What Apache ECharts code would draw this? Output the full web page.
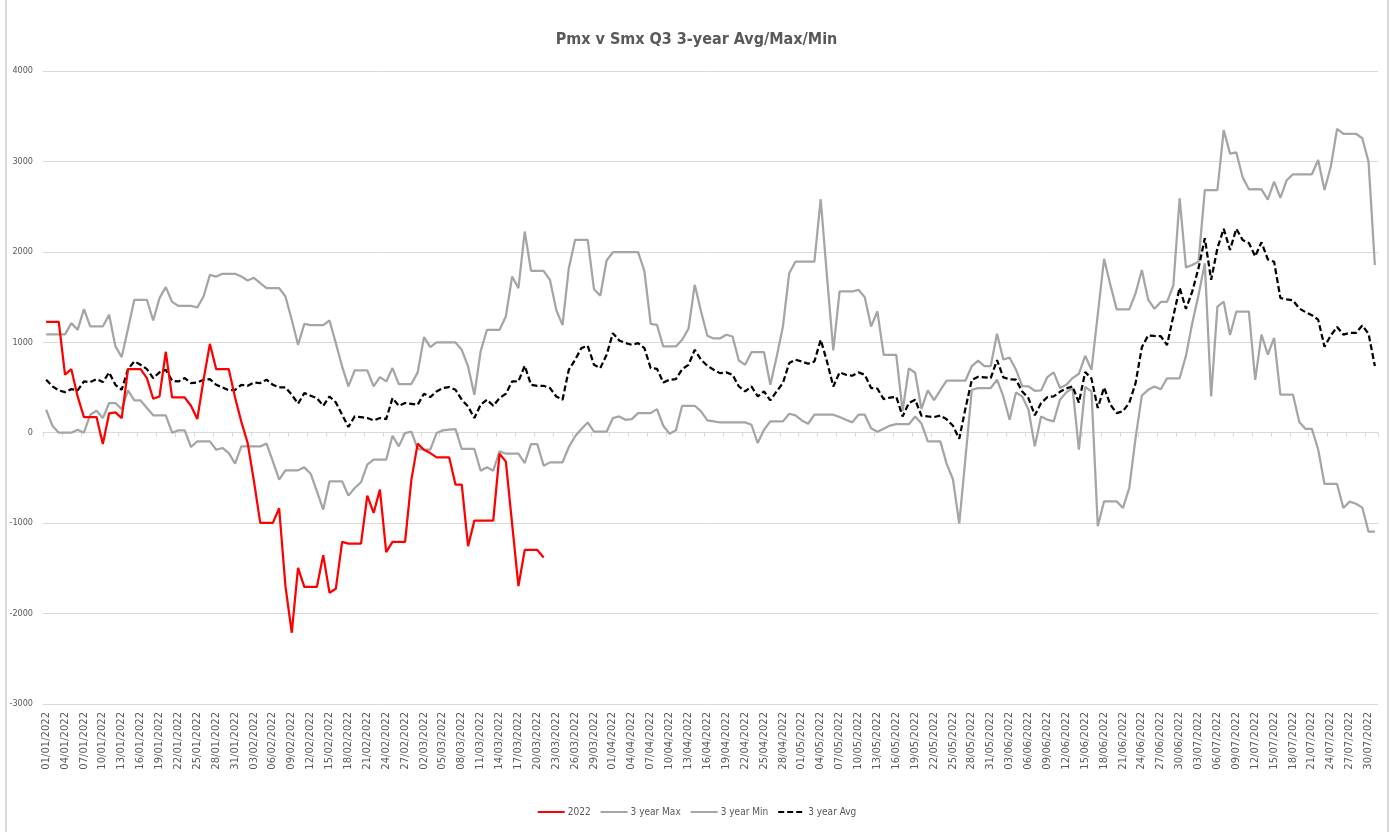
<!DOCTYPE html>
<html>
<head>
<meta charset="utf-8">
<script src="https://cdn.jsdelivr.net/npm/echarts@6/dist/echarts.min.js"></script>
<style>
html,body{margin:0;padding:0;background:#fff;}
#c{width:1393px;height:832px;}
</style>
</head>
<body>
<div id="c"></div>
<script>
// ---- categories: daily dates 01/01/2022 .. 31/07/2022 ----
const startYear = 2022, startMonth = 0, startDay = 1, dayCount = 212;
function buildDates() {
  const out = [];
  for (let k = 0; k < dayCount; k++) {
    const d = new Date(Date.UTC(startYear, startMonth, startDay + k));
    const dd = String(d.getUTCDate()).padStart(2, '0');
    const mm = String(d.getUTCMonth() + 1).padStart(2, '0');
    out.push(dd + '/' + mm + '/' + d.getUTCFullYear());
  }
  return out;
}
const dates = buildDates();

// ---- y axis ticks ----
const yMin = -3000, yMax = 4000, yStep = 1000;

// ---- series values ----
const s2022 = [1226,1226,1226,641,703,401,173,173,173,-125,213,225,162,703,703,703,604,376,401,895,
390,390,390,298,151,586,983,703,703,703,390,120,-114,-537,-997,-997,-997,-835,-1697,-2212,
-1494,-1704,-1704,-1704,-1354,-1770,-1726,-1207,-1226,-1226,-1226,-696,-887,-629,-1321,-1207,-1207,-1207,-519,-121,
-188,-225,-272,-272,-272,-574,-574,-1255,-972,-972,-972,-972,-232,-320,-1010,-1697,-1296,-1296,-1296,-1380];

const max3 = [1087,1087,1087,1087,1212,1138,1366,1175,1175,1175,1304,954,836,1150,1470,1470,1470,1241,1488,1610,
1447,1403,1403,1403,1385,1506,1746,1727,1757,1757,1757,1727,1683,1713,1654,1599,1599,1599,1506,1249,
972,1204,1190,1190,1190,1241,991,733,512,689,689,689,512,615,567,715,538,538,538,667,
1057,947,998,998,998,998,917,733,420,899,1138,1138,1138,1285,1727,1599,2225,1790,1790,1790,
1691,1359,1190,1820,2133,2133,2133,1587,1514,1904,1996,1996,1996,1996,1996,1790,1204,1193,954,954,
954,1028,1149,1635,1341,1072,1042,1042,1083,1064,799,751,891,891,891,530,836,1175,1764,1893,
1893,1893,1893,2582,1727,910,1562,1562,1562,1580,1499,1175,1341,862,862,862,240,711,663,263,
468,361,471,577,577,577,577,737,796,737,737,1095,810,830,700,515,512,464,468,615,
667,494,530,604,652,851,696,1310,1923,1635,1364,1364,1364,1542,1800,1472,1371,1446,1446,1628,
2592,1828,1855,1892,2684,2684,2684,3347,3086,3099,2825,2692,2694,2690,2577,2776,2598,2792,2858,2858,
2858,2858,3015,2684,2941,3359,3306,3306,3306,3256,2995,1855];

const min3 = [254,77,0,0,0,33,0,199,243,162,328,328,261,468,357,357,273,192,192,192,
0,26,26,-158,-96,-96,-96,-188,-169,-225,-342,-151,-151,-151,-151,-121,-317,-519,-416,-416,
-416,-383,-453,-648,-850,-537,-537,-537,-696,-611,-548,-353,-298,-298,-298,-33,-151,-4,11,-180,
-188,-188,-4,26,33,40,-180,-180,-180,-420,-383,-420,-206,-232,-232,-232,-335,-125,-125,-364,
-328,-328,-328,-158,-40,40,114,11,11,11,162,180,143,151,217,217,217,261,77,-11,
26,298,298,298,236,136,125,114,114,114,114,114,88,-114,33,125,125,125,210,191,
136,99,199,199,199,199,173,143,114,199,199,50,10,45,79,94,94,94,180,103,
-96,-96,-96,-344,-515,-1005,-270,475,494,494,494,586,401,144,446,401,254,-151,180,144,
125,365,446,494,-188,505,457,-1035,-759,-759,-759,-832,-611,-60,410,474,510,480,602,602,
602,850,1210,1523,1873,400,1394,1450,1080,1338,1338,1340,584,1085,864,1048,420,420,420,118,
42,42,-186,-567,-567,-567,-832,-762,-786,-828,-1095,-1095];

const avg3 = [586,512,468,449,482,468,567,560,593,560,667,530,475,703,788,751,703,604,667,696,
575,567,604,549,556,586,593,530,501,468,475,530,519,556,549,586,530,501,501,420,
320,438,409,383,298,401,335,199,63,180,173,162,136,162,151,383,298,328,320,309,
431,394,457,494,505,475,365,290,162,309,365,298,383,431,567,567,740,530,519,519,
494,401,365,696,807,936,961,751,715,862,1101,1020,991,972,991,936,715,707,556,586,
593,703,751,917,807,740,696,659,667,641,512,457,512,401,457,357,457,549,770,807,
788,762,788,1028,788,512,667,641,630,667,641,494,488,372,389,398,180,328,365,188,
180,173,190,148,77,-68,274,585,618,613,604,803,612,592,586,457,380,193,328,394,
401,452,490,512,332,672,598,273,500,310,217,238,330,548,945,1076,1070,1067,970,1290,
1603,1370,1560,1820,2150,1690,2040,2255,2021,2255,2132,2097,1950,2106,1917,1890,1490,1475,1464,1374,
1333,1300,1250,952,1075,1170,1085,1103,1103,1186,1094,738];

const seriesNames = ['2022', '3 year Max', '3 year Min', '3 year Avg'];

const txt = '#595959';
const narrow = "'Liberation Sans Narrow', 'DejaVu Sans Condensed', Roboto, sans-serif";
const chart = echarts.init(document.getElementById('c'), null, {renderer: 'canvas'});

chart.setOption({
  animation: false,
  backgroundColor: '#ffffff',
  graphic: [{
    type: 'rect', silent: true, z: -1,
    shape: {x: 6, y: -5, width: 1382, height: 850},
    style: {fill: 'none', stroke: '#d9d9d9', lineWidth: 2}
  }],
  title: {
    text: 'Pmx v Smx Q3 3-year Avg/Max/Min',
    left: 'center', top: 27,
    textStyle: {fontFamily: narrow, fontSize: 16, fontWeight: 'bold', color: txt}
  },
  legend: {
    data: seriesNames,
    top: 802, left: 'center',
    itemWidth: 27, itemHeight: 10, itemGap: 9,
    itemStyle: {opacity: 0},
    textStyle: {fontFamily: narrow, fontSize: 10, color: txt, padding: [0, 0, 0, -2]}
  },
  grid: {left: 43, right: 15, top: 71, bottom: 128},
  xAxis: [{
    type: 'category', data: dates, boundaryGap: true,
    axisLine: {show: false, onZero: false},
    axisTick: {show: false},
    splitLine: {show: false},
    axisLabel: {interval: 2, rotate: 90, fontSize: 10, color: txt, fontFamily: 'DejaVu Sans', margin: 8}
  }, {
    type: 'category', data: dates, boundaryGap: true, position: 'bottom',
    axisLine: {show: true, onZero: true, lineStyle: {color: '#d9d9d9', width: 1}},
    axisTick: {show: true, interval: 2, length: 4, lineStyle: {color: '#d9d9d9'}},
    axisLabel: {show: false},
    splitLine: {show: false}
  }],
  yAxis: {
    type: 'value', min: yMin, max: yMax, interval: yStep,
    axisLine: {show: false}, axisTick: {show: false},
    axisLabel: {fontSize: 9, color: txt, fontFamily: narrow, margin: 10, formatter: v => String(v)},
    splitLine: {lineStyle: {color: '#d9d9d9', width: 1}}
  },
  series: [{
    name: seriesNames[0], type: 'line', data: s2022, symbol: 'none', z: 5,
    lineStyle: {color: '#ff0000', width: 2.25}, itemStyle: {color: '#ff0000'}
  }, {
    name: seriesNames[1], type: 'line', data: max3, symbol: 'none', z: 3,
    lineStyle: {color: '#a5a5a5', width: 2.25}, itemStyle: {color: '#a5a5a5'}
  }, {
    name: seriesNames[2], type: 'line', data: min3, symbol: 'none', z: 3,
    lineStyle: {color: '#a5a5a5', width: 2.25}, itemStyle: {color: '#a5a5a5'}
  }, {
    name: seriesNames[3], type: 'line', data: avg3, symbol: 'none', z: 4, xAxisIndex: 1,
    lineStyle: {color: '#000000', width: 2.25, type: [6, 3]}, itemStyle: {color: '#000000'}
  }]
});
</script>
</body>
</html>
